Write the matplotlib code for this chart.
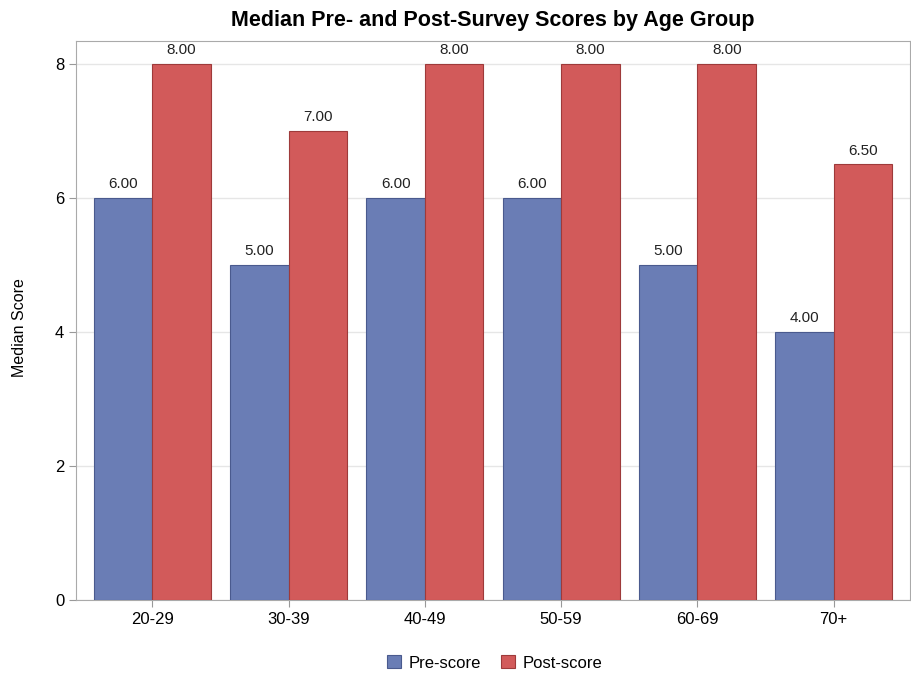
import matplotlib.pyplot as plt
import numpy as np

groups = ['20-29', '30-39', '40-49', '50-59', '60-69', '70+']
pre = [6.0, 5.0, 6.0, 6.0, 5.0, 4.0]
post = [8.0, 7.0, 8.0, 8.0, 8.0, 6.5]

plt.rcParams['font.family'] = ['Liberation Sans', 'DejaVu Sans']

fig = plt.figure(figsize=(9.12, 6.75), dpi=100)
ax = fig.add_axes([76/912, 75/675, 834/912, 559/675])

x = np.arange(len(groups))
w = 0.43
b1 = ax.bar(x - w/2, pre, w, color='#6a7db5', edgecolor='#4a5a8e', linewidth=0.8, label='Pre-score', zorder=3)
b2 = ax.bar(x + w/2, post, w, color='#d25a5a', edgecolor='#9e3a3a', linewidth=0.8, label='Post-score', zorder=3)

for bars, vals in [(b1, pre), (b2, post)]:
    for r, v in zip(bars, vals):
        ax.text(r.get_x() + r.get_width()/2, v + 0.1, '%.2f' % v, ha='center', va='bottom', fontsize=11, color='#222222')

ax.set_xlim(-0.56, 5.56)
ax.set_ylim(0, 8.34)
ax.set_yticks([0, 2, 4, 6, 8])
ax.set_xticks(x)
ax.set_xticklabels(groups)
ax.tick_params(axis='both', labelsize=12, color='#999999', length=5)
ax.yaxis.grid(True, color='#e6e6e6', linewidth=1, zorder=0)
ax.set_axisbelow(True)
for s in ax.spines.values():
    s.set_color('#aaaaaa')
ax.set_ylabel('Median Score', fontsize=11.5, labelpad=20)
ax.yaxis.label.set_y(0.487)
ax.set_title('Median Pre- and Post-Survey Scores by Age Group', fontsize=15.5, fontweight='bold', pad=11)

fig.legend(handles=[b1, b2], loc='center', bbox_to_anchor=(495/912, 1 - 663/675), ncol=2, frameon=False,
           fontsize=12, handlelength=0.8, handleheight=0.8, columnspacing=1.2, handletextpad=0.5)

fig.savefig('out.png', dpi=100)
